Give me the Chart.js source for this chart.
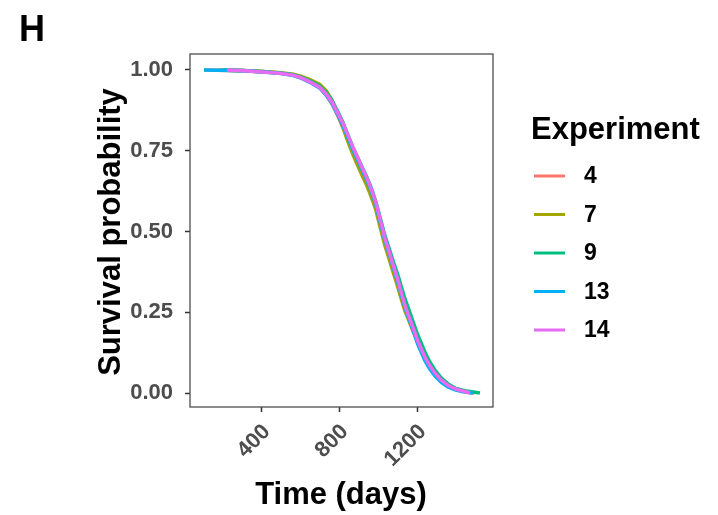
<!DOCTYPE html>
<html>
<head>
<meta charset="utf-8">
<title>Survival by experiment</title>
<script src="https://cdn.jsdelivr.net/npm/chart.js@4/dist/chart.umd.min.js"></script>
<style>
  html, body { margin: 0; padding: 0; background: #fff; }
  canvas { display: block; }
</style>
</head>
<body>
<canvas id="survivalChart" width="718" height="515"></canvas>
<script>
// values (Kaplan-Meier curves per experiment)
const experiments = ['4', '7', '9', '13', '14'];
const colors = ['#F8766D', '#A3A500', '#00BF7D', '#00B0F6', '#E76BF3'];

const days4 = [103, 300, 405, 500, 560, 600, 646, 697, 730, 760, 790, 815, 840, 867, 890, 913, 935, 954, 970, 985, 1005, 1030, 1056, 1075, 1097, 1115, 1133, 1155, 1174, 1200, 1236, 1260, 1287, 1320, 1354, 1390, 1430, 1490];
const surv4 = [1.000, 0.998, 0.995, 0.990, 0.985, 0.977, 0.964, 0.945, 0.922, 0.895, 0.858, 0.825, 0.790, 0.750, 0.720, 0.690, 0.660, 0.633, 0.605, 0.578, 0.532, 0.474, 0.425, 0.386, 0.343, 0.305, 0.268, 0.232, 0.200, 0.158, 0.112, 0.087, 0.065, 0.043, 0.027, 0.014, 0.006, 0.000];

const days7 = [180, 300, 405, 500, 560, 600, 646, 697, 730, 760, 790, 815, 840, 867, 890, 913, 935, 954, 970, 985, 1005, 1030, 1056, 1075, 1097, 1115, 1133, 1155, 1174, 1200, 1236, 1260, 1287, 1320, 1354, 1390, 1430, 1480];
const surv7 = [1.000, 0.998, 0.995, 0.991, 0.987, 0.981, 0.970, 0.955, 0.935, 0.905, 0.860, 0.822, 0.780, 0.738, 0.706, 0.675, 0.646, 0.618, 0.592, 0.565, 0.517, 0.458, 0.408, 0.370, 0.328, 0.290, 0.255, 0.222, 0.193, 0.153, 0.108, 0.084, 0.062, 0.041, 0.025, 0.013, 0.006, 0.000];

const days9 = [200, 300, 405, 500, 560, 600, 646, 697, 730, 760, 790, 815, 840, 867, 890, 913, 935, 954, 970, 985, 1005, 1030, 1056, 1075, 1097, 1115, 1133, 1155, 1174, 1200, 1236, 1260, 1287, 1320, 1354, 1390, 1440, 1518];
const surv9 = [1.000, 0.998, 0.995, 0.990, 0.985, 0.978, 0.966, 0.950, 0.930, 0.905, 0.870, 0.838, 0.800, 0.760, 0.730, 0.700, 0.672, 0.645, 0.618, 0.590, 0.545, 0.488, 0.440, 0.404, 0.365, 0.328, 0.292, 0.255, 0.222, 0.178, 0.126, 0.097, 0.071, 0.046, 0.028, 0.015, 0.007, 0.000];

const days13 = [103, 300, 405, 500, 560, 600, 646, 697, 730, 760, 790, 815, 840, 867, 890, 913, 935, 954, 970, 985, 1005, 1030, 1056, 1075, 1097, 1115, 1133, 1155, 1174, 1200, 1236, 1260, 1287, 1320, 1354, 1390, 1430, 1482];
const surv13 = [1.000, 0.998, 0.994, 0.989, 0.983, 0.975, 0.962, 0.944, 0.922, 0.896, 0.860, 0.828, 0.792, 0.752, 0.722, 0.692, 0.663, 0.636, 0.609, 0.581, 0.533, 0.474, 0.424, 0.386, 0.343, 0.304, 0.266, 0.228, 0.196, 0.150, 0.100, 0.075, 0.053, 0.033, 0.019, 0.010, 0.004, 0.000];

const days14 = [220, 300, 405, 500, 560, 600, 646, 697, 730, 760, 790, 815, 840, 867, 890, 913, 935, 954, 970, 985, 1005, 1030, 1056, 1075, 1097, 1115, 1133, 1155, 1174, 1200, 1236, 1260, 1287, 1320, 1354, 1390, 1426, 1467];
const surv14 = [1.000, 0.998, 0.994, 0.989, 0.984, 0.976, 0.963, 0.946, 0.925, 0.900, 0.865, 0.835, 0.800, 0.760, 0.730, 0.698, 0.670, 0.642, 0.615, 0.588, 0.540, 0.480, 0.430, 0.392, 0.350, 0.310, 0.272, 0.235, 0.204, 0.160, 0.111, 0.085, 0.062, 0.040, 0.024, 0.013, 0.007, 0.000];

const xTicks = [400, 800, 1200];
const yTicks = [0, 0.25, 0.5, 0.75, 1];

const seriesDays = [days4, days7, days9, days13, days14];
const seriesSurv = [surv4, surv7, surv9, surv13, surv14];

const FONT = '"Liberation Sans", Arial, Helvetica, sans-serif';

function toPoints(days, surv) {
  return days.map((d, i) => ({ x: d, y: surv[i] }));
}

// later experiments are drawn on top, like ggplot does
const datasets = experiments.map((name, i) => ({
  label: name,
  data: toPoints(seriesDays[i], seriesSurv[i]),
  borderColor: colors[i],
  borderWidth: 3.6,
  pointRadius: 0,
  tension: 0,
  fill: false,
  order: experiments.length - i,
}));

const decorations = {
  id: 'decorations',
  beforeDraw(chart) {
    const ctx = chart.ctx;
    ctx.save();
    ctx.fillStyle = '#fff';
    ctx.fillRect(0, 0, chart.width, chart.height);
    ctx.restore();
  },
  afterDraw(chart) {
    const ctx = chart.ctx;
    const area = chart.chartArea;
    ctx.save();

    // panel border
    ctx.strokeStyle = '#4D4D4D';
    ctx.lineWidth = 1.3;
    ctx.strokeRect(area.left, area.top, area.right - area.left, area.bottom - area.top);

    // panel tag
    ctx.fillStyle = '#000';
    ctx.font = `bold 36px ${FONT}`;
    ctx.textAlign = 'left';
    ctx.textBaseline = 'alphabetic';
    ctx.fillText('H', 19, 41);

    // axis titles
    ctx.font = `bold 31px ${FONT}`;
    ctx.textAlign = 'center';
    ctx.fillText('Time (days)', 341, 504);

    ctx.save();
    ctx.translate(120, 232);
    ctx.rotate(-Math.PI / 2);
    ctx.fillText('Survival probability', 0, 0);
    ctx.restore();

    // legend
    ctx.textAlign = 'left';
    ctx.font = `bold 31px ${FONT}`;
    ctx.fillText('Experiment', 531, 139);

    ctx.font = `bold 23px ${FONT}`;
    ctx.textBaseline = 'middle';
    experiments.forEach((name, i) => {
      const y = 176 + i * 38.5;
      ctx.strokeStyle = colors[i];
      ctx.lineWidth = 3;
      ctx.beginPath();
      ctx.moveTo(534, y);
      ctx.lineTo(565, y);
      ctx.stroke();
      ctx.fillStyle = '#000';
      ctx.fillText(name, 584, y + 1);
    });

    ctx.restore();
  },
};

const tickFont = { family: FONT, size: 22, weight: 'bold' };

new Chart(document.getElementById('survivalChart'), {
  type: 'line',
  data: { datasets },
  options: {
    responsive: false,
    animation: false,
    events: [],
    layout: { padding: { left: 0, top: 54, right: 225, bottom: 0 } },
    plugins: { legend: { display: false }, tooltip: { enabled: false } },
    scales: {
      x: {
        type: 'linear',
        min: 31,
        max: 1585,
        afterBuildTicks: (scale) => { scale.ticks = xTicks.map((v) => ({ value: v })); },
        afterFit: (scale) => { scale.height = 108; },
        ticks: {
          autoSkip: false,
          minRotation: 45,
          maxRotation: 45,
          padding: 7,
          labelOffset: 5,
          color: '#4D4D4D',
          font: tickFont,
          callback: (v) => String(v),
        },
        grid: { drawOnChartArea: false, drawTicks: true, tickLength: 5, tickColor: '#333', tickWidth: 1.5 },
        border: { display: false },
      },
      y: {
        type: 'linear',
        min: -0.0433,
        max: 1.0495,
        afterBuildTicks: (scale) => { scale.ticks = yTicks.map((v) => ({ value: v })); },
        afterFit: (scale) => { scale.width = 190; },
        ticks: {
          padding: 12,
          color: '#4D4D4D',
          font: tickFont,
          callback: (v) => Number(v).toFixed(2),
        },
        grid: { drawOnChartArea: false, drawTicks: true, tickLength: 5, tickColor: '#333', tickWidth: 1.5 },
        border: { display: false },
      },
    },
  },
  plugins: [decorations],
});
</script>
</body>
</html>
